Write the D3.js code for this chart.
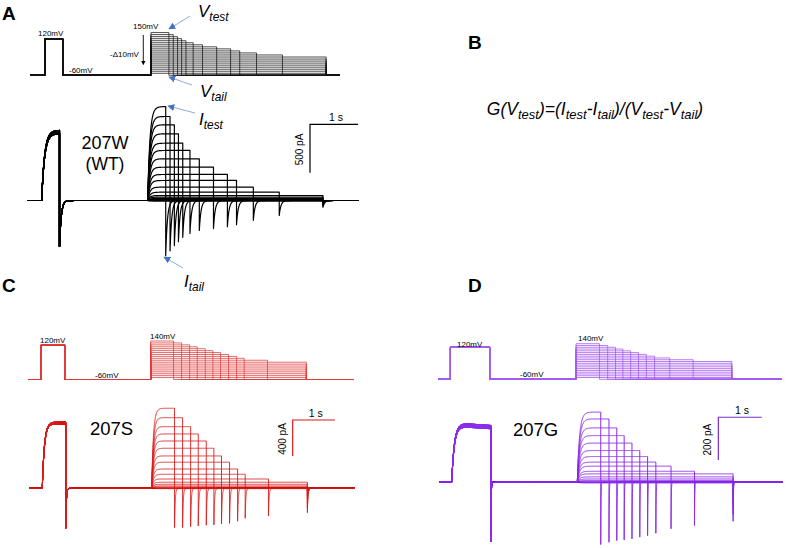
<!DOCTYPE html>
<html><head><meta charset="utf-8">
<script src="https://cdn.jsdelivr.net/npm/d3@7"></script>
<style>
body{margin:0;background:#fff}
svg{display:block}
text{font-family:"Liberation Sans",Arial,sans-serif;fill:#000}
</style></head>
<body><svg width="787" height="548"></svg>
<script>
// ---------- DATA ----------
// Panel A : 207W (WT)
const testV_A   = [150,140,130,120,110,100,90,80,70,60,50,40,30,20,10,0,-10,-20,-30,-40,-50];
const testDur_A = [0.375,0.465,0.555,0.64,0.73,0.88,1.075,1.37,1.66,1.85,2.2,2.74,3.65,3.65,3.65,3.65,3.65,3.65,3.65,3.65,3.65];
const iTest_A   = [970,868,782,689,592,517,431,344,269,207,138,86,52,35,22,12,6,2,0,-3,-5];
const iTail_A   = [-570,-520,-465,-425,-380,-340,-310,-290,-270,-250,-205,-155,-70,-55,-40,-28,-18,-10,-5,-2,0];
const iPre_A    = [725,705,690];
const iPreTail_A = -475;
const timing_A  = {preOn:0.306, preOff:0.677, testOn:2.515, protEnd:6.45, recEnd:6.9};

// Panel C : 207S
const testV_C   = [140,130,120,110,100,90,80,70,60,50,40,30,20,10,0,-10,-20,-30,-40,-50];
const testDur_C = [0.54,0.73,0.92,1.10,1.29,1.47,1.65,1.84,2.03,2.21,2.76,3.68,3.68,3.68,3.68,3.68,3.68,3.68,3.68,3.68];
const iTest_C   = [888,784,684,603,525,444,359,289,214,155,103,67,44,26,14,6,2,0,-2,-4];
const iTail_C   = [-437,-437,-426,-418,-411,-407,-396,-389,-366,-333,-307,-271,-220,-170,-120,-80,-45,-20,-8,0];
const iPre_C    = [735,715];
const iPreTail_C = -444;
const timing_C  = {preOn:0.307, preOff:0.86, testOn:2.894, protEnd:7.7, recEnd:7.7};

// Panel D : 207G
const testV_D   = [140,130,120,110,100,90,80,70,60,50,40,30,20,10,0,-10,-20,-30,-40,-50];
const testDur_D = [0.54,0.73,0.91,1.08,1.26,1.44,1.62,1.81,2.16,2.70,3.59,3.59,3.59,3.59,3.59,3.59,3.59,3.59,3.59,3.59];
const iTest_D   = [328,296,254,218,183,148,120,94,75,51,39,25,15,8,4,1,0,-1,-2,-3];
const iTail_D   = [-292,-281,-273,-270,-265,-257,-250,-239,-218,-203,-183,-150,-120,-90,-60,-40,-20,-10,-5,0];
const iPre_D    = [278,270,262];
const iPreTail_D = -279;
const timing_D  = {preOn:0.286, preOff:1.19, testOn:3.18, protEnd:7.92, recEnd:7.92};

// protocol levels (mV)
const holdV = -60, preV = 120;
// scale bars: time (s), current bottom (pA), lengths
const scaleBar_A = {t:5.896, i0:287, di:500, dt:1, lab:"500 pA"};
const scaleBar_C = {t:6.227, i0:358, di:400, dt:1, lab:"400 pA"};
const scaleBar_D = {t:6.43,  i0:104, di:200, dt:1, lab:"200 pA"};

// ---------- RENDER ----------
const svg = d3.select("svg");
const defs = svg.append("defs");
defs.append("marker").attr("id","bh").attr("viewBox","0 0 10 10").attr("refX",9).attr("refY",5)
  .attr("markerWidth",7).attr("markerHeight",7).attr("orient","auto-start-reverse")
  .append("path").attr("d","M0,0L10,5L0,10z").attr("fill","#4472c4");
defs.append("marker").attr("id","kh").attr("viewBox","0 0 10 10").attr("refX",5).attr("refY",5)
  .attr("markerWidth",5).attr("markerHeight",5).attr("orient","auto")
  .append("path").attr("d","M0,0L10,5L0,10z").attr("fill","#000");

const panels = [
 {V:testV_A, dur:testDur_A, iss:iTest_A, tail:iTail_A, pre:iPre_A, preTail:iPreTail_A, tm:timing_A, sb:scaleBar_A,
  vMax:150, protX:[30.2,339.8], protY:[75.3,32.6], recX:[27,358.2], iDom:[-600,1000], recY:[258.6,103.7],
  tauP:0.06, tauR:0.045, tauT:0.035, preDecay:0, col:"#000", pcol:"#111", scol:"#000", tw:1.2, pw:0.75},
 {V:testV_C, dur:testDur_C, iss:iTest_C, tail:iTail_C, pre:iPre_C, preTail:iPreTail_C, tm:timing_C, sb:scaleBar_C,
  vMax:140, protX:[28.3,354], protY:[379.5,341], recX:[29.3,355], iDom:[-500,900], recY:[533.3,407.2],
  tauP:0.05, tauR:0.04, tauT:0.015, preDecay:0, col:"#d81b1b", pcol:"#e03a3a", scol:"#d81b1b", tw:0.9, pw:0.75},
 {V:testV_D, dur:testDur_D, iss:iTest_D, tail:iTail_D, pre:iPre_D, preTail:iPreTail_D, tm:timing_D, sb:scaleBar_D,
  vMax:140, protX:[438,781.7], protY:[379.3,343.7], recX:[439.3,783], iDom:[-300,350], recY:[546.3,407.4],
  tauP:0.06, tauR:0.05, tauT:0.006, preDecay:0.05, col:"#8b2be8", pcol:"#a45cf0", scol:"#7a2cc8", tw:1.0, pw:0.8}
];

function currentAt(t, p, i){
  const tm = p.tm, te = tm.testOn + p.dur[i];
  if (t < tm.preOn) return 0;
  if (t < tm.preOff){ const u=t-tm.preOn; return p.pre[i%p.pre.length]*(1-Math.exp(-u/p.tauP))*(1-p.preDecay*u); }
  if (t < tm.testOn) return p.preTail*Math.exp(-(t-tm.preOff)/p.tauT);
  if (t < te) return p.iss[i]*(1-Math.exp(-(t-tm.testOn)/p.tauR));
  return p.tail[i]*Math.exp(-(t-te)/p.tauT);
}
function sampleTimes(p, i){
  const tm = p.tm, br=[tm.preOn, tm.preOff, tm.testOn, tm.testOn+p.dur[i]];
  const ts=[];
  for(let t=0;t<=tm.recEnd+1e-9;t+=0.005) ts.push(t);
  br.forEach(b=>{ ts.push(b-1e-6); for(let k=0;k<=80;k++) ts.push(b+k*0.0012); });
  return ts.filter(t=>t>=0&&t<=tm.recEnd).sort((a,b)=>a-b);
}

panels.forEach(p=>{
  const tm=p.tm;
  const xP=d3.scaleLinear().domain([0,tm.protEnd]).range(p.protX);
  const yP=d3.scaleLinear().domain([holdV,p.vMax]).range(p.protY);
  const xI=d3.scaleLinear().domain([0,tm.recEnd]).range(p.recX);
  const yI=d3.scaleLinear().domain(p.iDom).range(p.recY);
  const lineP=d3.line().x(d=>xP(d[0])).y(d=>yP(d[1]));
  const lineI=d3.line().x(d=>xI(d[0])).y(d=>yI(d[1]));
  const gP=svg.append("g"), gI=svg.append("g");
  p.V.forEach((v,i)=>{
    const te=tm.testOn+p.dur[i];
    const pts=[[0,holdV],[tm.preOn,holdV],[tm.preOn,preV],[tm.preOff,preV],[tm.preOff,holdV],
      [tm.testOn,holdV],[tm.testOn,v],[te,v],[te,holdV],[tm.protEnd,holdV]];
    gP.append("path").attr("d",lineP(pts)).attr("fill","none").attr("stroke",p.pcol).attr("stroke-width",p.pw);
  });
  for(let i=p.V.length-1;i>=0;i--){
    const pts=sampleTimes(p,i).map(t=>[t,currentAt(t,p,i)]);
    gI.append("path").attr("d",lineI(pts)).attr("fill","none").attr("stroke",p.col)
      .attr("stroke-width",p.tw).attr("stroke-linejoin","round");
  }
  // scale bar
  const sb=p.sb;
  svg.append("path").attr("d",lineI([[sb.t,sb.i0],[sb.t,sb.i0+sb.di],[sb.t+sb.dt,sb.i0+sb.di]]))
    .attr("fill","none").attr("stroke",p.scol).attr("stroke-width",1.2);
  const sbX=xI(sb.t), sbTop=yI(sb.i0+sb.di), sbBot=yI(sb.i0), sbX2=xI(sb.t+sb.dt);
  svg.append("text").attr("x",(sbX+sbX2)/2+2).attr("y",sbTop-3).attr("text-anchor","middle")
    .attr("font-size",10.5).text("1 s");
  svg.append("text").attr("transform",`translate(${sbX-7},${(sbTop+sbBot)/2+1}) rotate(-90)`)
    .attr("text-anchor","middle").attr("font-size",10).text(sb.lab);
});

// ---- text labels ----
function txt(x,y,s,size,opt={}){
  const t=svg.append("text").attr("x",x).attr("y",y).attr("font-size",size).text(s);
  if(opt.anchor) t.attr("text-anchor",opt.anchor);
  if(opt.bold) t.attr("font-weight","bold");
  return t;
}
txt(2,20,"A",19,{bold:true});
txt(468,49,"B",19,{bold:true});
txt(2,292,"C",19,{bold:true});
txt(468,292,"D",19,{bold:true});

// Panel A protocol labels
txt(38,36,"120mV",8); txt(69,73,"-60mV",8); txt(133,29,"150mV",8); txt(110,56.5,"-\u039410mV",8);
svg.append("line").attr("x1",143.3).attr("y1",35).attr("x2",143.3).attr("y2",63).attr("stroke","#000")
  .attr("stroke-width",0.9).attr("marker-end","url(#kh)");
// Panel C/D protocol labels
txt(40,343,"120mV",8); txt(95,378,"-60mV",8); txt(150,338.5,"140mV",8);
txt(457,347,"120mV",8); txt(520,377,"-60mV",8); txt(578,340.5,"140mV",8);

// construct names
txt(105,148.5,"207W",18,{anchor:"middle"});
txt(105,169.5,"(WT)",17.5,{anchor:"middle"});
txt(90,435,"207S",18.5);
txt(513,436,"207G",18.5);

// italic sub labels
function subLabel(x,y,main,sub,size){
  const t=svg.append("text").attr("x",x).attr("y",y).attr("font-size",size).attr("font-style","italic");
  t.append("tspan").text(main);
  t.append("tspan").attr("font-size",size*0.7).attr("dy",3.5).text(sub);
}
subLabel(198,17,"V","test",17);
subLabel(200,97,"V","tail",17);
subLabel(199,125,"I","test",17);
subLabel(184,287,"I","tail",17);

function arrow(x1,y1,x2,y2){
  svg.append("line").attr("x1",x1).attr("y1",y1).attr("x2",x2).attr("y2",y2)
    .attr("stroke","#8faadc").attr("stroke-width",1).attr("marker-end","url(#bh)");
}
arrow(190,16,169,29);
arrow(192,85,169,77);
arrow(195,113,168,106);
arrow(183,268,164,257);

// formula (panel B)
const fseg=[["G(",0],["V",0],["test",1],[")=(",0],["I",0],["test",1],["-",0],["I",0],["tail",1],[")/(",0],
  ["V",0],["test",1],["-",0],["V",0],["tail",1],[")",0]];
const ft=svg.append("text").attr("x",595).attr("y",115).attr("text-anchor","middle")
  .attr("font-size",17.5).attr("font-style","italic");
let sub=false;
fseg.forEach(([s,isSub])=>{
  const sp=ft.append("tspan").text(s);
  if(isSub){ sp.attr("font-size",13); if(!sub) sp.attr("dy",4); sub=true; }
  else { if(sub) sp.attr("dy",-4); sub=false; }
});
</script></body></html>
